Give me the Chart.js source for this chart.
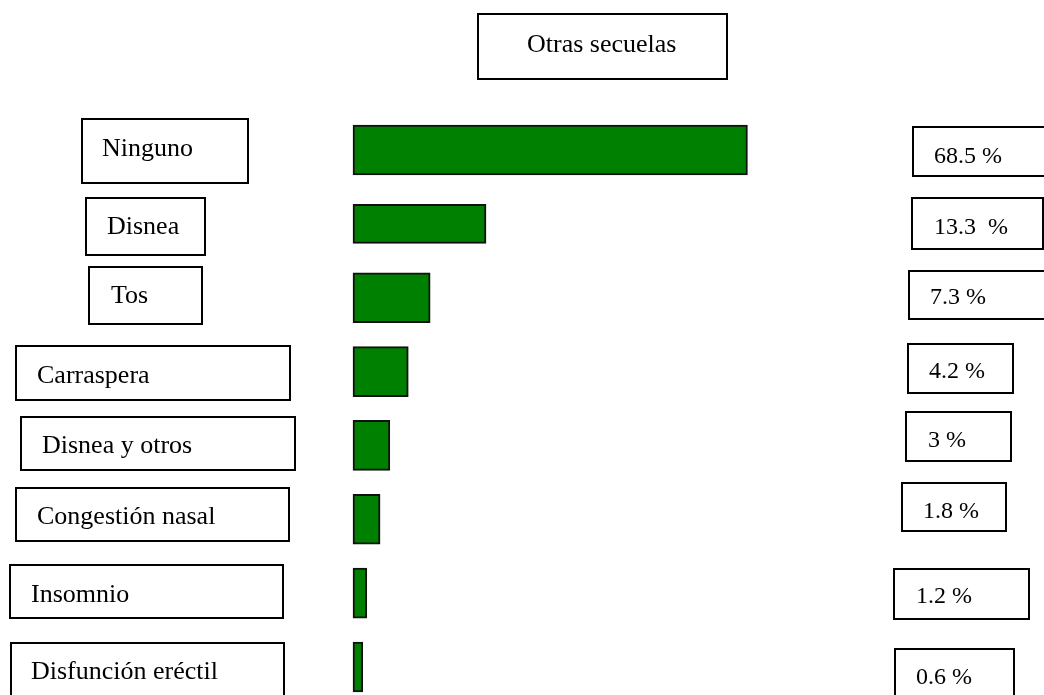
<!DOCTYPE html>
<html>
<head>
<meta charset="utf-8">
<script src="https://cdn.jsdelivr.net/npm/chart.js@4/dist/chart.umd.min.js"></script>
<style>
  html, body { margin: 0; padding: 0; background: #fff; overflow: hidden; }
  #wrap { position: relative; width: 1044px; height: 695px; }
</style>
</head>
<body>
<div id="wrap"><canvas id="c"></canvas></div>
<script>
// ---- data ----
const title = "Otras secuelas";
const categories = ["Ninguno", "Disnea", "Tos", "Carraspera", "Disnea y otros",
                    "Congestión nasal", "Insomnio", "Disfunción eréctil"];
const percentLabels = ["68.5 %", "13.3  %", "7.3 %", "4.2 %", "3 %", "1.8 %", "1.2 %", "0.6 %"];
// bar lengths as drawn in the picture (same unit as the 68.5 % bar)
const barLengths = [68.5, 23.1, 13.4, 9.6, 6.4, 4.7, 2.4, 1.7];

// ---- layout of the annotation boxes (styling only) ----
const labelBoxes = [
  {x: 82, y: 119, w: 166, h: 64, tx: 102, ty: 156},
  {x: 86, y: 198, w: 119, h: 57, tx: 107, ty: 234},
  {x: 89, y: 267, w: 113, h: 57, tx: 111, ty: 303},
  {x: 16, y: 346, w: 274, h: 54, tx: 37, ty: 383},
  {x: 21, y: 417, w: 274, h: 53, tx: 42, ty: 453},
  {x: 16, y: 488, w: 273, h: 53, tx: 37, ty: 524},
  {x: 10, y: 565, w: 273, h: 53, tx: 31, ty: 602},
  {x: 11, y: 643, w: 273, h: 60, tx: 31, ty: 679}
];
const valueBoxes = [
  {x: 913, y: 127, w: 140, h: 49, tx: 934, ty: 163},
  {x: 912, y: 198, w: 131, h: 51, tx: 934, ty: 234},
  {x: 909, y: 271, w: 140, h: 48, tx: 930, ty: 304},
  {x: 908, y: 344, w: 105, h: 49, tx: 929, ty: 378},
  {x: 906, y: 412, w: 105, h: 49, tx: 928, ty: 447},
  {x: 902, y: 483, w: 104, h: 48, tx: 923, ty: 518},
  {x: 894, y: 569, w: 135, h: 50, tx: 916, ty: 603},
  {x: 895, y: 649, w: 119, h: 60, tx: 916, ty: 684}
];
const titleBox = {x: 478, y: 14, w: 249, h: 65, tx: 527, ty: 52};
const thinIndex = 1; // the "Disnea" bar is drawn thinner in the reference

const serif = '"Liberation Serif", "Times New Roman", "DejaVu Serif", serif';

function drawBox(ctx, b, text, size) {
  ctx.save();
  ctx.fillStyle = '#ffffff';
  ctx.fillRect(b.x, b.y, b.w, b.h);
  ctx.strokeStyle = '#000000';
  ctx.lineWidth = 2;
  ctx.strokeRect(b.x, b.y, b.w, b.h);
  ctx.fillStyle = '#000000';
  ctx.font = size + 'px ' + serif;
  ctx.textAlign = 'left';
  ctx.textBaseline = 'alphabetic';
  ctx.fillText(text, b.tx, b.ty);
  ctx.restore();
}

const boxesPlugin = {
  id: 'boxes',
  afterDraw(chart) {
    const ctx = chart.ctx;
    drawBox(ctx, titleBox, title, 26);
    chart.data.labels.forEach((lab, i) => {
      drawBox(ctx, labelBoxes[i], lab, 26);
      drawBox(ctx, valueBoxes[i], percentLabels[i], 24);
    });
  }
};

const barStyle = {
  backgroundColor: '#008000',
  borderColor: '#111111',
  borderWidth: 2,
  borderSkipped: false,
  grouped: false,
  clip: false
};

new Chart(document.getElementById('c'), {
  type: 'bar',
  data: {
    labels: categories,
    datasets: [
      Object.assign({
        data: barLengths.map((v, i) => i === thinIndex ? null : v),
        barThickness: 50
      }, barStyle),
      Object.assign({
        data: barLengths.map((v, i) => i === thinIndex ? v : null),
        barThickness: 39
      }, barStyle)
    ]
  },
  options: {
    indexAxis: 'y',
    responsive: true,
    maintainAspectRatio: false,
    animation: false,
    layout: { padding: { left: 353, right: 0, top: 150, bottom: 28 } },
    scales: {
      x: { type: 'linear', min: 0, max: 120, display: false },
      y: { type: 'category', offset: false, display: false }
    },
    plugins: {
      legend: { display: false },
      tooltip: { enabled: false },
      title: { display: false }
    }
  },
  plugins: [boxesPlugin]
});
</script>
</body>
</html>
